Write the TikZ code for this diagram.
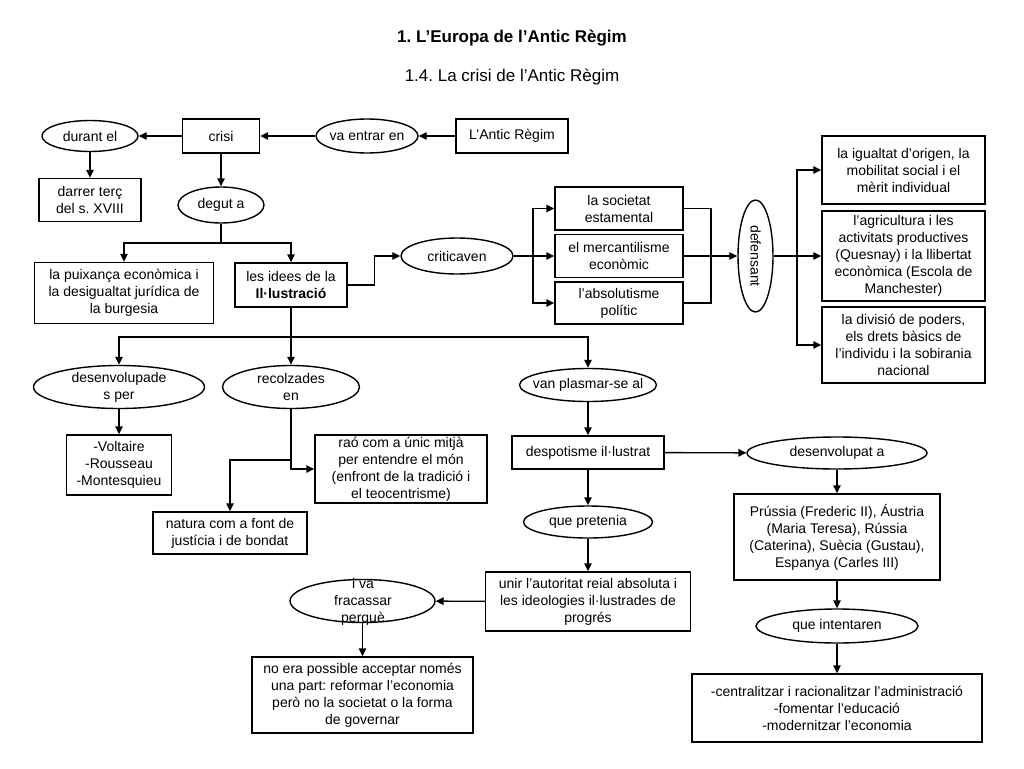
\documentclass[tikz,border=0pt]{standalone}
\usepackage{fontspec}
\setmainfont{Liberation Sans}
\usetikzlibrary{shapes.geometric,arrows.meta}
\frenchspacing
\begin{document}
\begin{tikzpicture}[x=1pt,y=-1pt,
  every node/.style={font=\fontsize{14}{17}\selectfont\frenchspacing},
  sz/.style 2 args={minimum width=#1pt,minimum height=#2pt},
  box/.style={draw,rectangle,line width=1.4pt,align=center,inner sep=1pt},
  ell/.style={draw,ellipse,line width=1.4pt,inner sep=0pt},
  txt/.style={align=center,inner sep=0pt},
  conn/.style={line width=1.4pt},
  arr/.style={conn,-{Triangle[length=8pt,width=7.5pt]}},
]
\useasboundingbox[fill=white] (0,0) rectangle (1024,768);

% titles
\node[font=\fontsize{17}{20}\selectfont\bfseries\frenchspacing] (title) at (512,38) {1. L’Europa de l’Antic Règim};
\node[font=\fontsize{17}{20}\selectfont\frenchspacing] (sub) at (512,77) {1.4. La crisi de l’Antic Règim};

% rectangles
\node[box,sz={77}{34}] (crisi) at (221,136) {crisi};
\node[box,sz={112}{34}] (antic) at (512,136) {L’Antic Règim};
\node[box,sz={102}{43}] (darrer) at (90,200) {darrer terç\\del s. XVIII};
\node[box,sz={179}{61}] (puix) at (124,293) {la puixança econòmica i\\la desigualtat jurídica de\\la burgesia};
\node[box,sz={112}{44}] (idees) at (291,285) {les idees de la\\\textbf{Il·lustració}};
\node[box,sz={128}{43}] (soc) at (619,208.5) {la societat\\estamental};
\node[box,sz={128}{43}] (merc) at (619,256) {el mercantilisme\\econòmic};
\node[box,sz={128}{42}] (abs) at (619,303) {l’absolutisme\\polític};
\node[box,sz={163}{68}] (ig) at (903.5,170) {la igualtat d’origen, la\\mobilitat social i el\\mèrit individual};
\node[box,sz={163}{90}] (agr) at (903.5,256) {l’agricultura i les\\activitats productives\\(Quesnay) i la llibertat\\econòmica (Escola de\\Manchester)};
\node[box,sz={163}{76}] (div) at (903.5,345) {la divisió de poders,\\els drets bàsics de\\l’individu i la sobirania\\nacional};
\node[box,sz={105}{60}] (volt) at (119,465) {-Voltaire\\-Rousseau\\-Montesquieu};
\node[box,sz={172}{68}] (rao) at (401,469) {raó com a únic mitjà\\per entendre el món\\(enfront de la tradició i\\el teocentrisme)};
\node[box,sz={154}{42}] (nat) at (230,533) {natura com a font de\\justícia i de bondat};
\node[box,sz={152}{33}] (desp) at (588,452.5) {despotisme il·lustrat};
\node[box,sz={206}{86}] (prus) at (837,537) {Prússia (Frederic II), Áustria\\(Maria Teresa), Rússia\\(Caterina), Suècia (Gustau),\\Espanya (Carles III)};
\node[box,sz={205}{59}] (unir) at (588,601.5) {unir l’autoritat reial absoluta i\\les ideologies il·lustrades de\\progrés};
\node[box,sz={221}{76}] (noera) at (362.5,695) {no era possible acceptar només\\una part: reformar l’economia\\però no la societat o la forma\\de governar};
\node[box,sz={290}{68}] (cent) at (837,708) {-centralitzar i racionalitzar l’administració\\-fomentar l’educació\\-modernitzar l’economia};

% ellipses
\node[ell,sz={102}{34}] (vaentrar) at (367,136) {};
\node[txt] (vaentrarT) at (vaentrar) {va entrar en};
\node[ell,sz={96}{31}] (durant) at (90,136) {};
\node[txt] (durantT) at (durant) {durant el};
\node[ell,sz={86}{36}] (degut) at (221,205) {};
\node[txt] (degutT) at (degut) {degut a};
\node[ell,sz={112}{36}] (critic) at (457,256) {};
\node[txt] (criticT) at (critic) {criticaven};
\node[ell,sz={35}{112}] (def) at (755.5,256) {};
\node[txt,rotate=-90] (defT) at (def) {defensant};
\node[ell,sz={171}{43}] (desv) at (119,387) {};
\node[txt] (desvT) at (desv) {desenvolupade\\s per};
\node[ell,sz={137}{43}] (recol) at (291,387) {};
\node[txt] (recolT) at (recol) {recolzades\\en};
\node[ell,sz={137}{33}] (vanpl) at (588,385) {};
\node[txt] (vanplT) at (vanpl) {van plasmar-se al};
\node[ell,sz={180}{32}] (desva) at (837,453) {};
\node[txt] (desvaT) at (desva) {desenvolupat a};
\node[ell,sz={129}{32}] (pret) at (588,522) {};
\node[txt] (pretT) at (pret) {que pretenia};
\node[ell,sz={145}{43}] (frac) at (362.5,601) {};
\node[txt] (fracT) at (363,602) {i va\\fracassar\\perquè};
\node[ell,sz={162}{34}] (intent) at (837,626) {};
\node[txt] (intentT) at (intent) {que intentaren};

% connectors
\draw[arr] (antic) -- (vaentrar);
\draw[arr] (vaentrar) -- (crisi);
\draw[arr] (crisi) -- (durant);
\draw[arr] (durant) -- (darrer);
\draw[arr] (crisi) -- (degut);
\coordinate (j1) at (221,243);
\draw[conn] (degut.south) -- (j1);
\draw[arr] (j1) -| (puix.north);
\draw[arr] (j1) -| (idees.north);
\draw[arr] (idees.east) -- ++(27,0) |- (critic.west);
\coordinate (c1) at (533,256);
\draw[arr] (critic) -- (merc);
\draw[arr] (c1) |- (soc.west);
\draw[arr] (c1) |- (abs.west);
\coordinate (c2) at (711,256);
\draw[conn] (soc.east) -| (c2) |- (abs.east);
\draw[arr] (merc) -- (def);
\coordinate (c3) at (797,256);
\draw[arr] (def) -- (agr);
\draw[arr] (c3) |- (ig.west);
\draw[arr] (c3) |- (div.west);
\coordinate (j2) at (291,337);
\draw[conn] (idees.south) -- (j2);
\draw[arr] (j2) -| (desv.north);
\draw[arr] (j2) -- (recol.north);
\draw[arr] (j2) -| (vanpl.north);
\draw[arr] (desv) -- (volt);
\draw[arr] (recol.south) |- (rao.west);
\coordinate (j3) at (291,460);
\draw[arr] (j3) -| (nat.north);
\draw[arr] (vanpl) -- (desp);
\draw[arr] (desp) -- (desva);
\draw[arr] (desp) -- (pret);
\draw[arr] (pret) -- (unir);
\draw[arr] (unir) -- (frac);
\draw[arr] (frac) -- (noera);
\draw[arr] (desva) -- (prus);
\draw[arr] (prus) -- (intent);
\draw[arr] (intent) -- (cent);
\end{tikzpicture}
\end{document}
